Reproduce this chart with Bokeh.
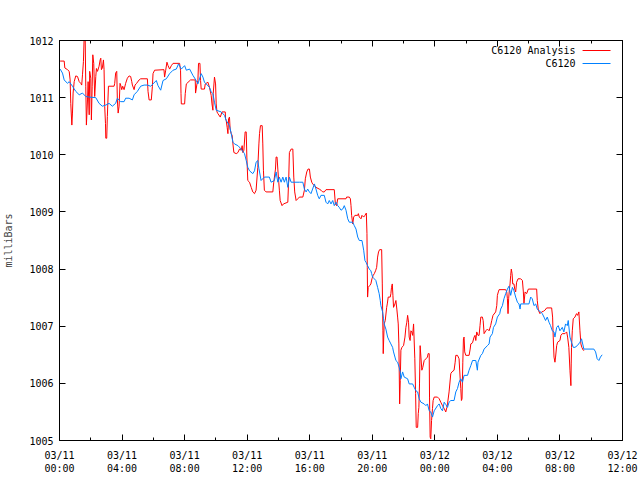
from bokeh.plotting import figure
from bokeh.models import Range1d, FixedTicker, LinearAxis, Label
from bokeh.embed import file_html
from bokeh.resources import INLINE

# ---- data (hours after 2025-03-11 00:00 UTC, millibars) ----
blue_hours = [0.04, 0.19, 0.30, 0.51, 0.62, 0.83, 1.04, 1.26, 1.47, 1.68, 1.90, 2.32, 2.53, 2.74, 2.96,
              3.17, 3.38, 3.59, 3.70, 3.91, 4.13, 4.23, 4.45, 4.66, 4.77, 4.98, 5.19, 5.41, 5.62, 5.83,
              5.98, 6.19, 6.30, 6.47, 6.62, 6.83, 7.04, 7.26, 7.47, 7.61, 7.79, 8.00, 8.11, 8.32, 8.53,
              8.74, 8.85, 9.06, 9.17, 9.27, 9.38, 9.59, 9.70, 9.81, 9.91, 10.02, 10.34, 10.55, 10.66,
              10.87, 10.98, 11.09, 11.19, 11.41, 11.62, 11.83, 11.94, 12.04, 12.15, 12.36, 12.47, 12.57,
              12.68, 12.75, 12.89, 13.10, 13.42, 13.53, 13.74, 13.85, 13.96, 14.06, 14.17, 14.28, 14.38,
              14.49, 14.60, 14.70, 14.81, 15.34, 15.56, 15.66, 15.77, 15.87, 15.98, 16.08, 16.30, 16.40,
              16.51, 16.61, 16.72, 16.93, 17.04, 17.15, 17.25, 17.36, 17.47, 17.57, 17.68, 17.79, 17.89,
              18.00, 18.11, 18.21, 18.32, 18.43, 18.53, 18.75, 18.85, 18.96, 19.07, 19.17, 19.34, 19.38,
              19.45, 19.53, 19.60, 19.70, 19.81, 19.91, 19.96, 20.02, 20.13, 20.23, 20.34, 20.44, 20.51,
              20.55, 20.66, 20.72, 20.76, 20.87, 20.98, 21.08, 21.19, 21.30, 21.36, 21.45, 21.51, 21.62,
              21.72, 21.79, 21.83, 21.94, 22.04, 22.26, 22.36, 22.58, 22.68, 22.79, 22.90, 23.00, 23.11,
              23.32, 23.43, 23.53, 23.64, 23.74, 23.85, 23.96, 24.17, 24.28, 24.38, 24.49, 24.60, 24.70,
              24.81, 24.91, 25.02, 25.23, 25.34, 25.45, 25.55, 25.66, 25.77, 25.87, 26.09, 26.19, 26.30,
              26.41, 26.62, 26.72, 26.76, 26.94, 27.04, 27.15, 27.36, 27.47, 27.53, 27.68, 27.75, 27.89,
              28.00, 28.15, 28.21, 28.32, 28.42, 28.53, 28.64, 28.74, 28.85, 28.96, 29.06, 29.17, 29.28,
              29.38, 29.45, 29.49, 30.02, 30.13, 30.23, 30.34, 30.45, 30.55, 30.66, 30.77, 30.87, 30.98,
              31.08, 31.19, 31.30, 31.40, 31.51, 31.62, 31.68, 31.79, 31.89, 32.00, 32.15, 32.25, 32.36,
              32.47, 32.53, 32.64, 32.74, 32.85, 32.96, 33.11, 33.28, 33.38, 33.53, 34.17, 34.28, 34.38,
              34.49, 34.59, 34.70]
blue_mbar = [1011.50, 1011.43, 1011.31, 1011.25, 1011.28, 1011.20, 1011.11, 1011.05, 1011.08, 1011.02,
             1011.01, 1011.00, 1010.90, 1010.85, 1010.87, 1010.90, 1010.85, 1010.90, 1010.99, 1010.93,
             1010.93, 1010.99, 1010.99, 1010.96, 1011.05, 1011.11, 1011.20, 1011.22, 1011.22, 1011.20,
             1011.24, 1011.30, 1011.21, 1011.13, 1011.30, 1011.33, 1011.42, 1011.48, 1011.50, 1011.59,
             1011.50, 1011.56, 1011.48, 1011.50, 1011.39, 1011.30, 1011.24, 1011.42, 1011.36, 1011.27,
             1011.24, 1011.18, 1011.10, 1011.07, 1010.92, 1010.78, 1010.75, 1010.69, 1010.60, 1010.51,
             1010.37, 1010.22, 1010.19, 1010.16, 1010.10, 1010.02, 1009.90, 1009.78, 1009.72, 1009.67,
             1009.72, 1009.87, 1009.90, 1009.76, 1009.55, 1009.61, 1009.61, 1009.52, 1009.55, 1009.70,
             1009.52, 1009.61, 1009.52, 1009.61, 1009.52, 1009.61, 1009.43, 1009.61, 1009.52, 1009.52,
             1009.52, 1009.40, 1009.35, 1009.40, 1009.35, 1009.32, 1009.49, 1009.40, 1009.29, 1009.23,
             1009.29, 1009.29, 1009.17, 1009.14, 1009.20, 1009.14, 1009.20, 1009.11, 1009.17, 1009.11,
             1009.08, 1009.03, 1009.05, 1009.11, 1009.03, 1008.88, 1008.82, 1008.82, 1008.76, 1008.70,
             1008.56, 1008.50, 1008.50, 1008.44, 1008.33, 1008.15, 1008.12, 1008.06, 1008.00, 1007.97,
             1007.92, 1007.86, 1007.83, 1007.80, 1007.68, 1007.57, 1007.45, 1007.36, 1007.25, 1007.13,
             1007.04, 1006.95, 1006.81, 1006.75, 1006.69, 1006.63, 1006.55, 1006.46, 1006.40, 1006.37,
             1006.28, 1006.20, 1006.08, 1006.20, 1006.11, 1006.08, 1005.99, 1005.99, 1005.93, 1005.87,
             1005.85, 1005.73, 1005.67, 1005.64, 1005.61, 1005.64, 1005.52, 1005.50, 1005.41, 1005.52,
             1005.61, 1005.64, 1005.56, 1005.52, 1005.67, 1005.63, 1005.58, 1005.67, 1005.70, 1005.70,
             1005.85, 1005.91, 1006.02, 1006.08, 1006.02, 1006.14, 1006.14, 1006.23, 1006.31, 1006.40,
             1006.40, 1006.23, 1006.37, 1006.49, 1006.52, 1006.60, 1006.66, 1006.69, 1006.81, 1006.87,
             1006.98, 1007.04, 1007.16, 1007.22, 1007.30, 1007.36, 1007.48, 1007.57, 1007.65, 1007.70,
             1007.54, 1007.68, 1007.62, 1007.51, 1007.42, 1007.39, 1007.30, 1007.39, 1007.39, 1007.51,
             1007.48, 1007.36, 1007.39, 1007.30, 1007.27, 1007.25, 1007.22, 1007.16, 1007.10, 1007.16,
             1007.07, 1007.01, 1006.92, 1006.90, 1006.81, 1006.98, 1007.01, 1006.92, 1006.98, 1006.90,
             1007.04, 1007.01, 1007.10, 1006.81, 1006.72, 1006.63, 1006.63, 1006.66, 1006.72, 1006.78,
             1006.60, 1006.60, 1006.55, 1006.43, 1006.40, 1006.46, 1006.50]

red_hours = [0.04, 0.30, 0.34, 0.51, 0.62, 0.68, 0.72, 0.79, 0.83, 0.87, 0.94, 1.04, 1.15, 1.26, 1.36,
             1.42, 1.47, 1.53, 1.58, 1.64, 1.68, 1.72, 1.79, 1.83, 1.90, 1.93, 2.00, 2.04, 2.09, 2.13,
             2.19, 2.25, 2.32, 2.36, 2.43, 2.53, 2.60, 2.64, 2.68, 2.74, 2.81, 2.85, 2.89, 2.94, 2.96,
             3.02, 3.06, 3.13, 3.49, 3.53, 3.59, 3.66, 3.70, 3.75, 3.81, 3.87, 3.91, 3.98, 4.04, 4.13,
             4.23, 4.34, 4.45, 4.55, 4.62, 4.66, 4.77, 4.83, 4.93, 5.09, 5.19, 5.62, 5.66, 5.73, 5.87,
             5.94, 5.98, 6.08, 6.68, 6.72, 6.79, 6.87, 6.94, 7.04, 7.15, 7.26, 7.68, 7.74, 7.77, 7.79,
             8.00, 8.04, 8.11, 8.38, 8.68, 8.70, 8.79, 8.85, 8.89, 8.98, 9.02, 9.06, 9.27, 9.32, 9.49,
             9.59, 9.70, 9.75, 9.81, 9.83, 9.91, 9.98, 10.02, 10.07, 10.13, 10.28, 10.39, 10.60, 10.62,
             10.66, 10.72, 10.77, 10.81, 10.87, 10.91, 10.98, 11.04, 11.09, 11.15, 11.30, 11.41, 11.51,
             11.62, 11.68, 11.72, 11.79, 11.87, 11.94, 11.98, 12.04, 12.15, 12.26, 12.36, 12.47, 12.57,
             12.68, 12.75, 12.79, 12.85, 12.96, 13.00, 13.04, 13.10, 13.21, 13.64, 13.70, 13.81, 13.85,
             13.91, 13.96, 14.02, 14.06, 14.11, 14.23, 14.32, 14.60, 14.66, 14.70, 14.81, 14.92, 14.98,
             15.04, 15.13, 15.24, 15.34, 15.56, 15.66, 15.72, 15.81, 15.89, 15.98, 16.04, 16.13, 16.19,
             16.30, 16.40, 16.61, 16.72, 16.83, 16.93, 17.04, 17.57, 17.64, 17.72, 17.79, 18.32, 18.36,
             18.53, 18.60, 18.64, 18.68, 18.75, 18.81, 18.89, 19.07, 19.11, 19.17, 19.28, 19.34, 19.45,
             19.53, 19.62, 19.66, 19.68, 19.70, 19.74, 19.83, 19.91, 19.98, 20.06, 20.13, 20.21, 20.28,
             20.34, 20.40, 20.47, 20.60, 20.64, 20.68, 20.70, 20.76, 20.83, 20.92, 20.96, 21.02, 21.15,
             21.19, 21.23, 21.28, 21.32, 21.36, 21.45, 21.51, 21.57, 21.62, 21.66, 21.70, 21.75, 21.79,
             21.83, 21.89, 22.00, 22.09, 22.15, 22.21, 22.26, 22.32, 22.36, 22.42, 22.47, 22.53, 22.58,
             22.64, 22.72, 22.77, 22.81, 22.90, 22.94, 22.98, 23.02, 23.06, 23.11, 23.17, 23.23, 23.32,
             23.43, 23.53, 23.57, 23.64, 23.66, 23.70, 23.74, 23.79, 23.85, 23.89, 23.96, 24.17, 24.28,
             24.38, 24.49, 24.60, 24.70, 24.77, 24.81, 24.91, 25.02, 25.09, 25.23, 25.30, 25.34, 25.45,
             25.55, 25.62, 25.66, 25.70, 25.74, 25.79, 25.83, 25.87, 25.91, 25.98, 26.19, 26.26, 26.30,
             26.41, 26.51, 26.57, 26.62, 26.68, 26.76, 26.83, 26.89, 26.94, 27.04, 27.09, 27.15, 27.26,
             27.36, 27.47, 27.57, 27.64, 27.72, 27.89, 27.96, 28.00, 28.06, 28.11, 28.53, 28.60, 28.64,
             28.68, 28.72, 28.77, 28.81, 28.85, 28.89, 28.94, 28.98, 29.06, 29.11, 29.17, 29.23, 29.32,
             29.49, 29.60, 29.66, 29.70, 29.77, 29.87, 29.98, 30.51, 30.55, 30.62, 30.72, 30.83, 30.94,
             31.04, 31.15, 31.47, 31.53, 31.57, 31.62, 31.68, 31.72, 31.79, 31.85, 32.00, 32.06, 32.15,
             32.32, 32.43, 32.49, 32.57, 32.64, 32.70, 32.72, 32.74, 32.79, 32.85, 32.96, 33.06, 33.13,
             33.21, 33.28, 33.34, 33.40, 33.49, 33.55]
red_mbar = [1011.64, 1011.64, 1011.52, 1011.49, 1011.46, 1011.31, 1010.90, 1010.52, 1010.73, 1011.08,
            1011.28, 1011.38, 1011.37, 1011.28, 1011.25, 1011.22, 1011.40, 1011.63, 1012.09, 1012.09,
            1011.20, 1010.52, 1010.96, 1011.28, 1010.70, 1011.46, 1011.34, 1010.61, 1011.20, 1011.75,
            1011.60, 1011.02, 1011.37, 1011.51, 1011.46, 1011.55, 1011.66, 1011.69, 1011.49, 1011.52,
            1011.66, 1011.49, 1010.85, 1010.55, 1010.29, 1010.29, 1010.67, 1011.20, 1011.20, 1011.25,
            1011.43, 1011.46, 1010.96, 1010.73, 1010.85, 1011.25, 1011.22, 1011.14, 1011.20, 1011.14,
            1011.25, 1011.34, 1011.38, 1011.37, 1011.28, 1011.22, 1011.14, 1011.22, 1011.25, 1011.31,
            1011.33, 1011.33, 1011.11, 1010.96, 1010.96, 1011.20, 1011.42, 1011.48, 1011.49, 1011.36,
            1011.48, 1011.62, 1011.56, 1011.50, 1011.56, 1011.60, 1011.60, 1011.48, 1011.07, 1010.89,
            1010.89, 1011.07, 1011.24, 1011.31, 1011.31, 1011.08, 1011.24, 1011.30, 1011.60, 1011.60,
            1011.30, 1011.15, 1011.15, 1011.24, 1011.27, 1011.18, 1011.04, 1010.89, 1010.78, 1011.07,
            1011.36, 1011.24, 1010.89, 1010.75, 1010.72, 1010.66, 1010.75, 1010.75, 1010.63, 1010.60,
            1010.48, 1010.37, 1010.63, 1010.66, 1010.45, 1010.37, 1010.34, 1010.19, 1010.04, 1010.02,
            1010.04, 1010.10, 1010.08, 1010.16, 1010.04, 1010.08, 1010.40, 1010.40, 1009.96, 1009.55,
            1009.52, 1009.43, 1009.35, 1009.32, 1009.38, 1009.78, 1010.19, 1010.37, 1010.51, 1010.51,
            1010.19, 1009.73, 1009.38, 1009.35, 1009.35, 1009.52, 1009.75, 1009.96, 1009.96, 1009.75,
            1009.52, 1009.38, 1009.20, 1009.11, 1009.14, 1009.17, 1009.61, 1010.04, 1010.10, 1010.10,
            1009.61, 1009.35, 1009.20, 1009.23, 1009.26, 1009.26, 1009.38, 1009.58, 1009.70, 1009.75,
            1009.75, 1009.61, 1009.52, 1009.49, 1009.46, 1009.43, 1009.40, 1009.38, 1009.35, 1009.35,
            1009.39, 1009.39, 1009.14, 1009.11, 1009.23, 1009.23, 1009.26, 1009.26, 1009.23, 1009.11,
            1008.94, 1008.79, 1008.91, 1008.94, 1008.94, 1008.97, 1008.91, 1008.88, 1008.94, 1008.91,
            1008.94, 1008.98, 1008.62, 1008.03, 1007.51, 1007.68, 1007.71, 1007.74, 1007.83, 1007.89,
            1007.92, 1007.97, 1008.03, 1008.21, 1008.30, 1008.34, 1008.34, 1007.74, 1006.92, 1006.52,
            1007.04, 1007.10, 1007.33, 1007.39, 1007.51, 1007.51, 1007.57, 1007.68, 1007.74, 1007.54,
            1007.33, 1007.39, 1007.45, 1007.30, 1007.16, 1007.04, 1006.69, 1005.64, 1006.05, 1006.58,
            1006.63, 1006.66, 1006.81, 1006.98, 1007.07, 1007.19, 1007.07, 1006.81, 1006.75, 1006.92,
            1006.90, 1006.84, 1007.04, 1006.43, 1005.82, 1005.23, 1005.23, 1005.47, 1005.58, 1005.99,
            1006.66, 1006.46, 1006.23, 1006.28, 1006.40, 1006.43, 1006.46, 1006.52, 1006.52, 1005.76,
            1005.06, 1005.03, 1005.35, 1005.56, 1005.70, 1005.76, 1005.76, 1005.73, 1005.67, 1005.61,
            1005.56, 1005.50, 1005.58, 1005.64, 1005.85, 1006.17, 1006.20, 1006.23, 1006.37, 1006.49,
            1006.49, 1006.43, 1006.08, 1005.91, 1005.70, 1005.73, 1006.37, 1006.78, 1006.81, 1006.55,
            1006.49, 1006.49, 1006.60, 1006.69, 1006.71, 1006.81, 1006.84, 1006.75, 1006.90, 1006.84,
            1006.84, 1007.01, 1007.16, 1007.16, 1007.10, 1006.87, 1006.92, 1006.95, 1006.92, 1007.01,
            1007.10, 1007.19, 1007.25, 1007.36, 1007.54, 1007.60, 1007.64, 1007.64, 1007.60, 1007.48,
            1007.22, 1007.48, 1007.65, 1007.74, 1007.89, 1008.00, 1007.92, 1007.74, 1007.74, 1007.65,
            1007.60, 1007.77, 1007.83, 1007.83, 1007.80, 1007.60, 1007.40, 1007.60, 1007.57, 1007.65,
            1007.65, 1007.45, 1007.28, 1007.22, 1007.25, 1007.26, 1007.28, 1007.32, 1007.32, 1007.16,
            1006.81, 1006.46, 1006.37, 1006.46, 1006.66, 1006.72, 1006.75, 1006.84, 1006.87, 1006.87,
            1006.90, 1006.81, 1006.63, 1006.23, 1005.96, 1006.34, 1006.63, 1006.92, 1007.13, 1007.16,
            1007.22, 1007.19, 1007.25, 1006.92, 1006.69, 1006.63, 1006.58, 1006.58]

x_ticks = [0, 4, 8, 12, 16, 20, 24, 28, 32, 36]
x_tick_labels = ["03/11\n00:00", "03/11\n04:00", "03/11\n08:00", "03/11\n12:00", "03/11\n16:00",
                 "03/11\n20:00", "03/12\n00:00", "03/12\n04:00", "03/12\n08:00", "03/12\n12:00"]
x_minor_ticks = [2, 6, 10, 14, 18, 22, 26, 30, 34]
y_ticks = [1005, 1006, 1007, 1008, 1009, 1010, 1011, 1012]

title_text = "Barometric Pressure for C6120 on 2025-Mar-11 (time in UTC)"
y_label = "milliBars"
series_names = ["C6120 Analysis", "C6120"]
series_colors = ["#ff0000", "#0080ff"]

FONT = "DejaVu Sans Mono"
FS = "10px"

X0, X1, Y0, Y1 = 0, 36, 1005, 1012
L, R, T, B = 58, 18, 40, 40
W, H = 640, 480

p = figure(width=W, height=H, x_range=Range1d(X0, X1), y_range=Range1d(Y0, Y1),
           output_backend="svg", toolbar_location=None,
           min_border_left=L, min_border_right=R, min_border_top=T, min_border_bottom=B)
p.background_fill_color = "white"
p.border_fill_color = "white"
p.outline_line_color = "black"
p.outline_line_width = 1
p.xgrid.visible = False
p.ygrid.visible = False


def px2x(px):
    return X0 + (px - L) / (W - L - R) * (X1 - X0)


def px2y(py):
    return Y1 - (py - T) / (H - T - B) * (Y1 - Y0)


# bottom axis
xa = p.xaxis[0]
xa.ticker = FixedTicker(ticks=x_ticks, minor_ticks=x_minor_ticks)
xa.major_label_overrides = {t: lab for t, lab in zip(x_ticks, x_tick_labels)}
xa.major_tick_in = 6
xa.major_tick_out = 0
xa.minor_tick_in = 3
xa.minor_tick_out = 0
xa.major_label_standoff = 9
xa.major_label_text_font = FONT
xa.major_label_text_font_size = FS
xa.major_label_text_color = "black"
xa.axis_line_color = "black"

# left axis
ya = p.yaxis[0]
ya.ticker = FixedTicker(ticks=y_ticks)
ya.major_tick_in = 6
ya.major_tick_out = 0
ya.minor_tick_in = 0
ya.minor_tick_out = 0
ya.major_label_standoff = 6
ya.major_label_text_font = FONT
ya.major_label_text_font_size = FS
ya.major_label_text_color = "black"
ya.axis_label = y_label
ya.axis_label_text_font = FONT
ya.axis_label_text_font_size = FS
ya.axis_label_text_font_style = "normal"
ya.axis_label_standoff = 12
ya.axis_line_color = "black"

# mirrored ticks (right / top) drawn as label-free minor ticks
ra = LinearAxis(ticker=FixedTicker(ticks=[], minor_ticks=y_ticks), major_tick_in=0, major_tick_out=0,
                minor_tick_in=6, minor_tick_out=0, axis_line_color="black")
p.add_layout(ra, "right")
ta1 = LinearAxis(ticker=FixedTicker(ticks=[], minor_ticks=x_ticks), major_tick_in=0,
                 major_tick_out=0, minor_tick_in=6, minor_tick_out=0, axis_line_color="black")
p.add_layout(ta1, "above")
ta2 = LinearAxis(ticker=FixedTicker(ticks=[], minor_ticks=x_minor_ticks), major_tick_in=0,
                 major_tick_out=0, minor_tick_in=3, minor_tick_out=0, axis_line_color="black")
p.add_layout(ta2, "above")

# data lines
p.line(red_hours, red_mbar, line_color=series_colors[0], line_width=1)
p.line(blue_hours, blue_mbar, line_color=series_colors[1], line_width=1)

# title
p.add_layout(Label(x=px2x(340), y=px2y(19), text=title_text, text_align="center",
                   text_baseline="middle", text_font=FONT, text_font_size=FS, text_color="black"))

# key (gnuplot style: text then sample line)
for i, (name, col) in enumerate(zip(series_names, series_colors)):
    ky = 50 + 13 * i
    p.add_layout(Label(x=px2x(575), y=px2y(ky), text=name, text_align="right",
                       text_baseline="middle", text_font=FONT, text_font_size=FS, text_color="black"))
    p.line([px2x(582), px2x(610)], [px2y(ky), px2y(ky)], line_color=col, line_width=1)

open("out.html", "w").write(file_html(p, INLINE))
